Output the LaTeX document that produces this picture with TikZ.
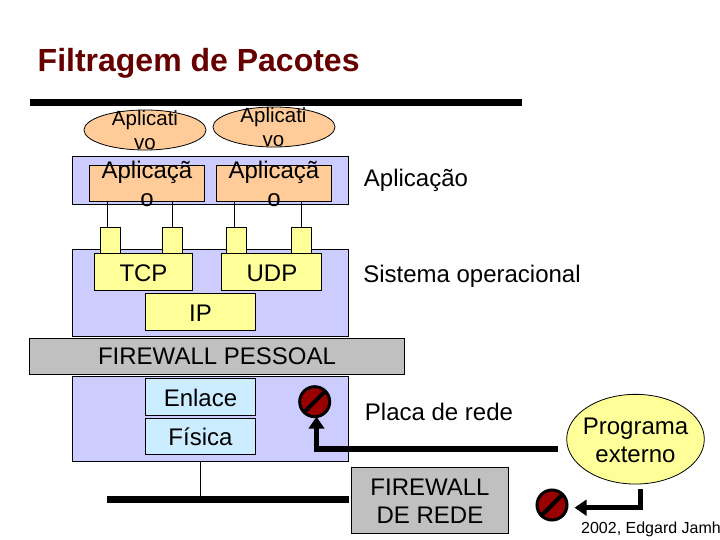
\documentclass[tikz,border=0pt]{standalone}
\usepackage{fontspec}
\setmainfont{Liberation Sans}
\usetikzlibrary{shapes.geometric,arrows.meta}
\definecolor{lblue}{HTML}{CCCCFF}
\definecolor{lorange}{HTML}{FFCC99}
\definecolor{lyellow}{HTML}{FFFF99}
\definecolor{lcyan}{HTML}{CCECFF}
\definecolor{lgray}{HTML}{C0C0C0}
\definecolor{stopred}{HTML}{990000}
\definecolor{titlered}{HTML}{660000}
\newcommand{\boxat}[6]{\node[#1,minimum width=#5pt-#3pt,minimum height=#6pt-#4pt] (#2) at ({(#3+#5)/2},{(#4+#6)/2}) {};}
\tikzset{
  x=1pt,y=-1pt,
  shp/.style={draw=black,line width=0.8pt,inner sep=0pt,outer sep=0pt},
  bluebox/.style={shp,fill=lblue},
  orangebox/.style={shp,fill=lorange},
  yellowbox/.style={shp,fill=lyellow},
  cyanbox/.style={shp,fill=lcyan},
  graybox/.style={shp,fill=lgray},
  oval/.style={shp,ellipse},
  txt/.style={inner sep=0pt,align=center,font=\fontsize{24}{28.5}\selectfont},
  ovaltxt/.style={txt,font=\fontsize{20.5}{23.5}\selectfont},
  thin link/.style={draw=black,line width=0.8pt},
  bar/.style={draw=black,line width=6.5pt},
  flow/.style={draw=black,line width=5.5pt,-{Triangle[length=12pt,width=15.5pt]}},
  stopdisc/.style={circle,draw=black,line width=3pt,fill=stopred,minimum size=30pt,inner sep=0pt,outer sep=1.5pt},
  slash/.style={draw=black,line width=4pt}
}
\begin{document}
\begin{tikzpicture}
\useasboundingbox (0,0) rectangle (720,540);
\node[txt,anchor=base west,font=\fontsize{32}{36}\selectfont\bfseries,text=titlered] (title) at (37.5,72) {Filtragem de Pacotes};
\coordinate (ruleL) at (30,102.3);
\coordinate (ruleR) at (522,102.3);
\draw[bar] (ruleL) -- (ruleR);
% ovals
\node[oval,fill=lorange,minimum width=122pt,minimum height=40pt] (ov1) at (145,130) {};
\node[oval,fill=lorange,minimum width=122pt,minimum height=40pt] (ov2) at (274,127) {};
% application layer
\boxat{bluebox}{appbg}{72.7}{156.7}{348}{204.3}
\boxat{orangebox}{ap1}{89}{165.7}{204.5}{201}
\boxat{orangebox}{ap2}{216.7}{165.7}{331.7}{201}
% system box
\boxat{bluebox}{sysbg}{72.7}{249.3}{348.5}{336}
% ports
\boxat{yellowbox}{p1}{100}{227}{120.7}{253.3}
\boxat{yellowbox}{p2}{162.3}{227}{182.7}{253.3}
\boxat{yellowbox}{p3}{226.3}{227}{246.7}{253.3}
\boxat{yellowbox}{p4}{291.7}{227}{311.7}{253.3}
\draw[thin link] ([xshift=-3pt]p1.north) -- ([xshift=-3pt]p1.north |- ap1.south);
\draw[thin link] (p2.north) -- (p2.north |- ap1.south);
\draw[thin link] ([xshift=-1.8pt]p3.north) -- ([xshift=-1.8pt]p3.north |- ap2.south);
\draw[thin link] (p4.north) -- (p4.north |- ap2.south);
\boxat{yellowbox}{tcp}{94.3}{253.3}{192.3}{290}
\boxat{yellowbox}{udp}{221.7}{253.3}{321}{290}
\boxat{yellowbox}{ip}{145.7}{293.3}{255.7}{330}
% firewall
\boxat{graybox}{fwp}{29.3}{338.3}{404.3}{374.3}
% lower
\boxat{bluebox}{nic}{72.7}{376.3}{348.5}{461}
\boxat{cyanbox}{enl}{145.3}{378.3}{255.3}{415.3}
\boxat{cyanbox}{fis}{145.3}{418.3}{255.3}{454.3}
% network
\coordinate (busL) at (107,499.5);
\coordinate (busR) at (349,499.5);
\coordinate (busT) at (200.3,499.5);
\draw[thin link] (busT |- nic.south) -- (busT);
\draw[bar] (busL) -- (busR);
\boxat{graybox}{fwr}{351.3}{467}{508.3}{533}
% external
\node[oval,fill=lyellow,minimum width=137.6pt,minimum height=89.7pt] (prog) at (635.5,439.2) {};
\node[stopdisc] (st1) at (314.7,401.7) {};
\node[stopdisc] (st2) at (552,505) {};
\draw[slash] ([shift={(-10,10)}]st1.center) -- ([shift={(10,-10)}]st1.center);
\draw[slash] ([shift={(-10,10)}]st2.center) -- ([shift={(10,-10)}]st2.center);
\coordinate (fromR) at (557.7,449);
\coordinate (corner) at (316.5,449);
\draw[flow,line join=miter] (fromR) -- (corner) -- ([yshift=1.5pt]corner |- st1.south);
\coordinate (fromP) at (640.7,489);
\coordinate (corner2) at (640.7,507.7);
\draw[flow,line join=miter] (fromP) -- (corner2) -- ([xshift=6pt]st2.east |- corner2);
% texts
\node[ovaltxt] (t1) at (145,130) {Aplicati\\vo};
\node[ovaltxt] (t2) at (273.5,127) {Aplicati\\vo};
\node[txt] (t3) at (147,184) {Aplicaçã\\o};
\node[txt] (t4) at (274,184) {Aplicaçã\\o};
\node[txt,anchor=base] (t5) at (416,187) {Aplicação};
\node[txt,anchor=base] (t6) at (472,282) {Sistema operacional};
\node[txt,anchor=base] (t7) at (143.5,281) {TCP};
\node[txt,anchor=base] (t8) at (272,281) {UDP};
\node[txt,anchor=base] (t9) at (200.5,321) {IP};
\node[txt,anchor=base] (t10) at (217,364.5) {FIREWALL PESSOAL};
\node[txt,anchor=base] (t11) at (200.5,406) {Enlace};
\node[txt,anchor=base] (t12) at (200.5,445) {Física};
\node[txt,anchor=base] (t13) at (439,420) {Placa de rede};
\node[txt] (t14) at (635.5,440.5) {Programa\\externo};
\node[txt] (t15) at (430,501) {FIREWALL\\DE REDE};
\node[txt,anchor=base west,font=\fontsize{16}{18}\selectfont] (t16) at (581,533) {2002, Edgard Jamh};
\end{tikzpicture}
\end{document}
